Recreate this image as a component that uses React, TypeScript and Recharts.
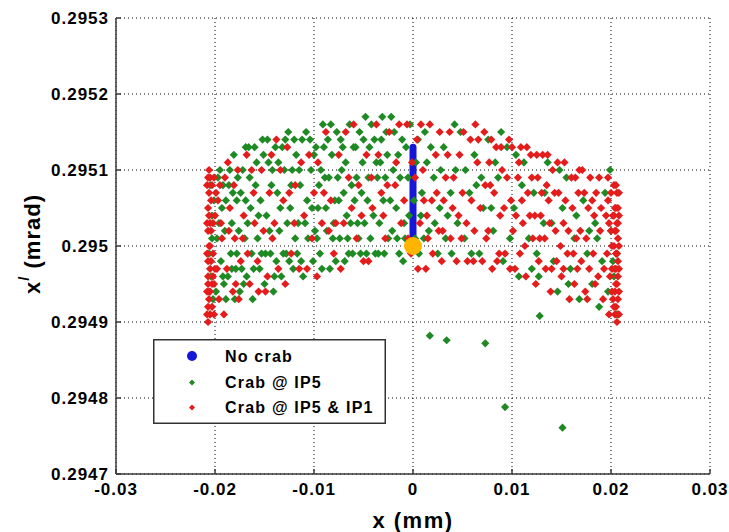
import React from 'react';
import { ScatterChart, Scatter, XAxis, YAxis, CartesianGrid, Legend, Label } from 'recharts';

const xTicks = [-0.03, -0.02, -0.01, 0, 0.01, 0.02, 0.03];
const yTicks = [0.2947, 0.2948, 0.2949, 0.295, 0.2951, 0.2952, 0.2953];
const seriesNames = ['No crab', 'Crab @ IP5', 'Crab @ IP5 & IP1'];
const xTitle = 'x (mm)';

const noCrab: [number, number][] = [[0, 0.295], [0, 0.29513]];
const startPoint: [number, number][] = [[0, 0.295]];

const crabIP5: [number, number][] = [
  [-0.0205,0.29508],[-0.0203,0.29504],[-0.0206,0.29499],[-0.0204,0.29496],[-0.0202,0.29493],[-0.0205,0.29491],[-0.0201,0.29506],[-0.0203,0.29501],
  [-0.0195,0.2951],[-0.0193,0.29505],[-0.019,0.29502],[-0.0194,0.29498],[-0.0191,0.29495],[-0.0189,0.29493],[-0.0186,0.29508],[-0.0184,0.29499],[-0.0187,0.29496],
  [-0.0181,0.29512],[-0.0178,0.29506],[-0.0176,0.29502],[-0.0179,0.29497],[-0.0175,0.29494],[-0.0172,0.2951],[-0.017,0.29501],[-0.0168,0.29496],[-0.0166,0.29513],[-0.0164,0.29505],[-0.0162,0.29493],
  [-0.0159,0.29508],[-0.0157,0.29501],[-0.0155,0.29497],[-0.0152,0.29514],[-0.015,0.29495],[-0.0148,0.29504],[-0.0146,0.29511],[-0.0144,0.29499],[-0.0141,0.29494],
  [-0.0139,0.29513],[-0.0137,0.29507],[-0.0135,0.29502],[-0.0133,0.29496],[-0.013,0.2951],[-0.0128,0.29499],[-0.0126,0.29515],[-0.0124,0.29505],[-0.0121,0.29497],
  [-0.0118,0.29512],[-0.0116,0.29503],[-0.0114,0.29508],[-0.0111,0.29496],[-0.0108,0.29515],[-0.0106,0.29501],[-0.0103,0.2951],[-0.0101,0.29498],
  [-0.0098,0.29513],[-0.0096,0.29505],[-0.0094,0.29499],[-0.0091,0.29516],[-0.0089,0.29509],[-0.0087,0.29502],[-0.0084,0.29497],[-0.0082,0.29512],
  [-0.0079,0.29506],[-0.0077,0.29515],[-0.0074,0.29501],[-0.0072,0.2951],[-0.0069,0.29498],[-0.0067,0.29504],[-0.0064,0.29516],[-0.0062,0.29508],[-0.0061,0.29499],
  [-0.0058,0.29513],[-0.0056,0.29503],[-0.0053,0.29499],[-0.0051,0.29511],[-0.0048,0.29517],[-0.0046,0.29506],[-0.0043,0.29501],
  [-0.0039,0.29514],[-0.0036,0.29509],[-0.0034,0.29503],[-0.0031,0.29517],[-0.0029,0.29499],[-0.0026,0.29512],[-0.0023,0.29506],
  [-0.0019,0.29515],[-0.0016,0.29501],[-0.0013,0.29509],[-0.001,0.29498],[-0.0007,0.29513],[-0.0004,0.29504],
  [0.0003,0.29511],[0.0006,0.29499],[0.0009,0.29507],[0.0012,0.29515],[0.0016,0.29502],[0.0021,0.29509],[0.0025,0.29499],
  [0.0031,0.29513],[0.0035,0.29504],[0.0039,0.29499],[0.0043,0.2951],[0.0048,0.29515],[0.0052,0.29501],[0.0057,0.29507],
  [0.0062,0.29512],[0.0067,0.29499],[0.0071,0.29505],[0.0076,0.29514],[0.0081,0.29502],[0.0086,0.29509],[0.0091,0.29498],[0.0095,0.29513],
  [0.0102,0.29505],[0.0107,0.29496],[0.0112,0.29511],[0.0117,0.29501],[0.0122,0.29507],[0.0127,0.29496],[0.0132,0.29503],[0.0136,0.29511],
  [0.0142,0.29498],[0.0146,0.29494],[0.0151,0.29505],[0.0155,0.29509],[0.0159,0.29497],[0.0163,0.29501],[0.0168,0.29493],[0.0172,0.29506],[0.0176,0.29499],
  [0.0181,0.29495],[0.0184,0.29503],[0.0188,0.29492],[0.0191,0.29498],[0.0194,0.29507],[0.0197,0.29494],[0.02,0.29502],[0.0203,0.29496],[0.0205,0.29491],[0.0206,0.29499],
  [-0.0198,0.29501],[-0.0192,0.29508],[-0.0183,0.29503],[-0.0177,0.29509],[-0.0173,0.29497],[-0.0169,0.29506],[-0.0163,0.29499],[-0.0158,0.29511],[-0.0154,0.29506],[-0.0149,0.29499],
  [-0.0143,0.29508],[-0.0138,0.29498],[-0.0132,0.29513],[-0.0127,0.29503],[-0.0122,0.2951],[-0.0117,0.29499],[-0.0112,0.29514],[-0.0107,0.29506],[-0.0099,0.29502],[-0.0093,0.2951],
  [-0.0086,0.29514],[-0.0081,0.29501],[-0.0076,0.29509],[-0.0071,0.29513],[-0.0066,0.29501],[-0.0059,0.29506],[-0.0054,0.29515],[-0.0049,0.29503],[-0.0044,0.29513],[-0.0038,0.29499],
  [-0.0033,0.29511],[-0.0027,0.29515],[-0.0021,0.29502],[-0.0015,0.29512],[-0.0008,0.29501],[0.0001,0.29506],[0.0014,0.29511],[0.0027,0.29505],[0.0045,0.29503],[0.0064,0.29508],
  [0.0083,0.29511],[0.0104,0.29512],[0.0125,0.29499],[0.0148,0.2951],[0.0178,0.29502],[0.0199,0.2951],
  [-0.0199,0.29494],[-0.0197,0.29509],[-0.0196,0.29503],[-0.0192,0.29496],[-0.0189,0.29506],[-0.0185,0.2951],[-0.0183,0.29497],[-0.0182,0.29507],[-0.018,0.29493],[-0.0178,0.29499],
  [-0.0174,0.29507],[-0.0171,0.29495],[-0.0169,0.29513],[-0.0167,0.29503],[-0.0165,0.29509],[-0.0161,0.29497],[-0.016,0.29513],[-0.0156,0.29504],[-0.0153,0.29499],[-0.0151,0.29512],
  [-0.0147,0.29514],[-0.0145,0.29502],[-0.0142,0.2951],[-0.014,0.29496],[-0.0136,0.29511],[-0.0134,0.29505],[-0.0131,0.29499],[-0.0129,0.29514],[-0.0125,0.29498],[-0.0123,0.29508],
  [-0.012,0.29514],[-0.0119,0.29501],[-0.0115,0.2951],[-0.0113,0.29498],[-0.0109,0.29503],[-0.0104,0.29514],[-0.0102,0.29505],[-0.01,0.29512],[-0.0097,0.29501],[-0.0095,0.29508],
  [-0.0092,0.29497],[-0.009,0.29513],[-0.0088,0.29505],[-0.0085,0.29509],[-0.0083,0.29516],[-0.008,0.29503],[-0.0078,0.29498],[-0.0075,0.29506],[-0.0073,0.29514],[-0.007,0.29507],
  [-0.0068,0.29511],[-0.0065,0.29499],[-0.0063,0.29503],[-0.006,0.29513],[-0.0057,0.29509],[-0.0055,0.29501],[-0.0052,0.29507],[-0.005,0.29514],[-0.0047,0.29499],[-0.0045,0.29509],
  [-0.0042,0.29516],[-0.004,0.29504],[-0.0037,0.29511],[-0.0035,0.29499],[-0.0032,0.29514],[-0.003,0.29506],[-0.0028,0.29509],[-0.0025,0.29501],[-0.0022,0.29517],[-0.002,0.2951],
  [-0.0017,0.29505],[-0.0014,0.29499],[-0.0011,0.29514],[-0.0009,0.29503],[-0.0005,0.29509],[-0.0003,0.29516],[0.0002,0.29501],[0.0005,0.29514],[0.0008,0.29504],[0.0011,0.29501],
  [0.0018,0.29513],[0.0022,0.29503],[0.0028,0.2951],[0.0033,0.29501],[0.0038,0.29507],[0.0042,0.29516],[0.0053,0.2951],[0.0059,0.29499],[0.0069,0.29509],[0.0079,0.29505],
  [0.0089,0.29515],[0.0098,0.29501],[0.011,0.29508],[0.012,0.29497],[0.0133,0.29507],[0.014,0.29503],[0.0157,0.29495],[0.0165,0.29504],[0.0186,0.29501],[0.0202,0.29498],
  [0.0017,0.294882],[0.0034,0.294876],[0.0073,0.294872],[0.0128,0.294908],[0.0093,0.294788],[0.0151,0.294761],
];

const crabIP5IP1: [number, number][] = [
  [-0.0207,0.29509],[-0.0206,0.29507],[-0.0207,0.29505],[-0.0205,0.29503],[-0.0207,0.29502],[-0.0206,0.295],[-0.0207,0.29498],[-0.0205,0.29497],[-0.0207,0.29495],[-0.0206,0.29494],
  [-0.0207,0.29492],[-0.0205,0.29491],[-0.0207,0.2949],[-0.0203,0.29508],[-0.0202,0.29499],[-0.0204,0.29502],[-0.0201,0.29495],[-0.0203,0.29492],[-0.02,0.29504],[-0.0204,0.29506],
  [-0.0206,0.2951],[-0.0202,0.29496],[-0.0206,0.29504],[-0.0207,0.29496],[-0.0206,0.29493],
  [-0.0208,0.29508],[-0.0208,0.29503],[-0.0208,0.29499],[-0.0208,0.29494],[-0.0208,0.29491],[-0.0205,0.29509],[-0.0205,0.295],[-0.0205,0.29494],[-0.0204,0.29498],[-0.0203,0.29495],
  [-0.0202,0.29503],[-0.0201,0.29509],[-0.0201,0.29491],[-0.02,0.29497],[-0.0199,0.29507],
  [-0.0197,0.29506],[-0.0196,0.29493],[-0.0193,0.29501],[-0.019,0.29509],[-0.0188,0.29497],[-0.0185,0.29505],[-0.0182,0.29494],[-0.018,0.29501],[-0.0177,0.2951],[-0.0174,0.29498],
  [-0.0171,0.29504],[-0.0168,0.29512],[-0.0165,0.29495],[-0.0161,0.29507],[-0.0156,0.29494],[-0.0153,0.2951],[-0.0151,0.29502],[-0.0147,0.29496],[-0.0143,0.29512],[-0.014,0.29503],
  [-0.0136,0.29497],[-0.0131,0.29506],[-0.0127,0.29513],[-0.0123,0.29499],[-0.0119,0.29508],[-0.0115,0.29497],[-0.011,0.29504],[-0.0105,0.29512],[-0.01,0.29507],[-0.0097,0.29496],
  [-0.0092,0.29503],[-0.0088,0.29515],[-0.0083,0.29506],[-0.008,0.29499],[-0.0075,0.29512],[-0.007,0.29503],[-0.0065,0.29509],[-0.006,0.29516],[-0.0055,0.29508],[-0.005,0.29498],
  [-0.0047,0.29512],[-0.0041,0.29505],[-0.0037,0.29516],[-0.0032,0.29507],[-0.0028,0.29501],[-0.0024,0.29515],[-0.0018,0.29508],[-0.0012,0.29503],[-0.0006,0.29516],[-0.0002,0.29499],
  [-0.0198,0.29497],[-0.0195,0.29508],[-0.0191,0.29491],[-0.0186,0.29502],[-0.0181,0.29508],[-0.0176,0.29493],[-0.0172,0.29501],[-0.0163,0.2951],[-0.0157,0.29498],[-0.0149,0.29494],
  [-0.0142,0.29501],[-0.0138,0.29514],[-0.0129,0.29495],[-0.0125,0.29507],[-0.0113,0.29511],[-0.0107,0.29497],[-0.0096,0.29511],[-0.0085,0.29502],[-0.0073,0.29497],[-0.0068,0.29515],
  [-0.0062,0.29505],[-0.0052,0.29504],[-0.0045,0.29498],[-0.0035,0.29512],[-0.0026,0.29508],[-0.0014,0.29516],[-0.0005,0.29501],[-0.0001,0.29511],
  [-0.0194,0.29503],[-0.0187,0.29511],[-0.0179,0.29495],[-0.0167,0.29499],[-0.016,0.29503],[-0.0145,0.29507],[-0.0134,0.2951],[-0.012,0.29503],[-0.0102,0.29501],[-0.009,0.29507],
  [-0.0078,0.29503],[-0.0057,0.29501],[-0.0042,0.29509],[-0.003,0.29504],[-0.0017,0.29511],[-0.0009,0.29506],
  [0.0004,0.29514],[0.0007,0.29503],[0.001,0.2951],[0.0013,0.29497],[0.0017,0.29516],[0.0019,0.29506],[0.0023,0.29512],[0.0026,0.29502],[0.0029,0.29498],[0.0033,0.29509],
  [0.0037,0.29515],[0.004,0.29505],[0.0044,0.29498],[0.0047,0.29512],[0.005,0.29507],[0.0054,0.29503],[0.0058,0.29514],[0.0061,0.29498],[0.0065,0.29511],[0.0068,0.29505],
  [0.0072,0.29515],[0.0074,0.29501],[0.0078,0.29508],[0.008,0.29497],[0.0084,0.29513],[0.0088,0.29504],[0.009,0.2951],[0.0093,0.29499],[0.0097,0.29514],[0.0099,0.29506],
  [0.0103,0.29497],[0.0106,0.29509],[0.0109,0.29513],[0.0111,0.29503],[0.0114,0.29496],[0.0116,0.29507],[0.0119,0.29512],[0.0121,0.29501],[0.0124,0.29495],[0.0126,0.29509],
  [0.0129,0.29504],[0.0131,0.29512],[0.0134,0.29497],[0.0137,0.29506],[0.0139,0.29494],[0.0141,0.2951],[0.0144,0.29502],[0.0147,0.29507],[0.015,0.29496],[0.0153,0.29511],
  [0.0156,0.29499],[0.0158,0.29493],[0.0161,0.29505],[0.0164,0.29509],[0.0166,0.29497],[0.0169,0.29502],[0.0171,0.2951],[0.0174,0.29494],[0.0177,0.29505],[0.0179,0.29509],
  [0.0182,0.29499],[0.0185,0.29507],[0.0187,0.29496],[0.0189,0.29502],[0.0192,0.29493],[0.0195,0.29504],[0.0196,0.29499],[0.0198,0.29491],
  [0.0015,0.29501],[0.0031,0.29506],[0.0049,0.29501],[0.0063,0.29516],[0.0077,0.29511],[0.0087,0.29499],[0.0101,0.29502],[0.0108,0.29499],[0.0118,0.29504],[0.0128,0.29501],
  [0.0135,0.29508],[0.0145,0.29498],[0.0152,0.29503],[0.0162,0.29499],[0.0167,0.29507],[0.0175,0.29501],[0.0183,0.29504],[0.0188,0.29509],[0.0193,0.29497],[0.0197,0.29506],
  [0.0002,0.29509],[0.0005,0.29497],[0.0008,0.29516],[0.0011,0.29506],[0.0014,0.29504],[0.002,0.29499],[0.0024,0.29507],[0.0027,0.29515],[0.003,0.29502],[0.0035,0.29512],
  [0.0038,0.29501],[0.0041,0.29509],[0.0046,0.29504],[0.0051,0.29515],[0.0055,0.29498],[0.0059,0.29506],[0.0062,0.29502],[0.0066,0.29514],[0.007,0.29498],[0.0073,0.29508],
  [0.0076,0.29502],[0.0079,0.29514],[0.0082,0.29507],[0.0085,0.29498],[0.0089,0.29513],[0.0092,0.29505],[0.0095,0.29509],[0.0098,0.29497],[0.01,0.29513],[0.0104,0.29504],
  [0.0107,0.29511],[0.011,0.29506],[0.0113,0.295],[0.0115,0.29513],[0.012,0.29509],[0.0123,0.29504],[0.0125,0.29512],[0.0127,0.29498],[0.013,0.29507],[0.0133,0.29501],
  [0.0136,0.29512],[0.0138,0.29503],[0.014,0.29497],[0.0143,0.29507],[0.0146,0.29511],[0.0149,0.295],[0.0152,0.29497],[0.0154,0.29506],[0.0157,0.29502],[0.016,0.29509],
  [0.0163,0.29495],[0.0165,0.29501],[0.0168,0.2951],[0.017,0.29498],[0.0173,0.29507],[0.0176,0.29493],[0.0178,0.29497],[0.0181,0.29506],[0.0184,0.29495],[0.019,0.29505],
  [0.02,0.29507],[0.0201,0.29497],[0.0202,0.29504],[0.0203,0.29508],[0.0203,0.295],[0.0204,0.29494],[0.0204,0.29505],[0.0205,0.29502],[0.0205,0.29497],[0.0206,0.29507],
  [0.0206,0.29503],[0.0206,0.29499],[0.0207,0.29505],[0.0207,0.29501],[0.0207,0.29496],[0.0207,0.29493],[0.0207,0.29491],[0.0206,0.2949],[0.0205,0.29492],[0.0207,0.29498],
  [0.0207,0.29503],[0.0206,0.29495],[0.0204,0.29491],[0.0202,0.29493],
  [0.0208,0.29507],[0.0208,0.29504],[0.0208,0.295],[0.0208,0.29497],[0.0208,0.29494],[0.0208,0.29491],[0.0205,0.29508],[0.0205,0.29505],[0.0205,0.29499],[0.0205,0.29495],
  [0.0204,0.29502],[0.0204,0.29497],[0.0203,0.29504],[0.0203,0.29492],[0.0201,0.295],[0.0201,0.29494],[0.02,0.29502],[0.0199,0.29496],[0.0198,0.29503],[0.0197,0.29509],
];

const BLUE = '#1616d8';
const GREEN = '#1f8a24';
const RED = '#e41c1c';
const ORANGE = '#ffb400';
const FONT = '"Liberation Sans", Arial, Helvetica, sans-serif';

const rows = (a: [number, number][]) => a.map(([x, y]) => ({ x, y }));

const diamond = (color: string, r: number) => (props: any) => {
  const { cx, cy } = props;
  if (cx == null || cy == null) return <g />;
  return <polygon points={`${cx},${cy - r} ${cx + r},${cy} ${cx},${cy + r} ${cx - r},${cy}`} fill={color} />;
};

const bigDot = (props: any) => {
  const { cx, cy } = props;
  if (cx == null || cy == null) return <g />;
  return <circle cx={cx} cy={cy} r={9} fill={ORANGE} />;
};

const noDot = () => <g />;

const tickStyle = { fontFamily: FONT, fontSize: 17, fontWeight: 700, fill: '#000', letterSpacing: 1 };

const LegendBox = () => (
  <svg width={233} height={85} style={{ display: 'block' }}>
    <rect x={0.75} y={0.75} width={231.5} height={83.5} fill="#fff" stroke="#333" strokeWidth={1.5} />
    <circle cx={39} cy={17} r={5} fill={BLUE} />
    <polygon points="39,40.5 42,43.5 39,46.5 36,43.5" fill={GREEN} />
    <polygon points="39,65.5 42,68.5 39,71.5 36,68.5" fill={RED} />
    {seriesNames.map((n, i) => (
      <text key={n} x={72} y={[17, 43.5, 68.5][i]} dominantBaseline="central" fontFamily={FONT} fontSize={16} fontWeight={700} letterSpacing={1.2} fill="#000">{n}</text>
    ))}
  </svg>
);

const YTitle = () => (
  <text x={32} y={244} transform="rotate(-90, 32, 244)" textAnchor="middle" dominantBaseline="central" fontFamily={FONT} fontSize={22} fontWeight={700} letterSpacing={1} fill="#000">
    x<tspan dy={-9} fontSize={15}>/</tspan><tspan dy={9}> (mrad)</tspan>
  </text>
);

export default function App() {
  return (
    <div style={{ position: 'absolute', left: 0, top: 0, width: 729, height: 532, background: '#fff' }}>
      <ScatterChart width={729} height={532} margin={{ top: 18, right: 19, bottom: 0, left: 0 }}>
        <CartesianGrid stroke="#000" strokeDasharray="1 3" strokeWidth={1} />
        <XAxis
          type="number"
          dataKey="x"
          domain={[-0.03, 0.03]}
          ticks={xTicks}
          interval={0}
          height={58}
          tickSize={-5}
          tickMargin={14}
          tick={tickStyle}
          axisLine={{ stroke: '#3a3a3a', strokeWidth: 1.5 }}
          tickLine={{ stroke: '#3a3a3a', strokeWidth: 1.5 }}
        >
          <Label
            content={() => (
              <text x={413} y={520} textAnchor="middle" dominantBaseline="central" fontFamily={FONT} fontSize={22} fontWeight={700} letterSpacing={1.5} fill="#000">{xTitle}</text>
            )}
          />
        </XAxis>
        <YAxis
          type="number"
          dataKey="y"
          domain={[0.2947, 0.2953]}
          ticks={yTicks}
          interval={0}
          width={116}
          tickSize={-5}
          tickMargin={12}
          tick={tickStyle}
          axisLine={{ stroke: '#3a3a3a', strokeWidth: 1.5 }}
          tickLine={{ stroke: '#3a3a3a', strokeWidth: 1.5 }}
        >
          <Label content={() => <YTitle />} />
        </YAxis>
        <Scatter name={seriesNames[0]} data={rows(noCrab)} fill={BLUE} line={{ stroke: BLUE, strokeWidth: 7, strokeLinecap: 'round' }} shape={noDot} isAnimationActive={false} />
        <Scatter name={seriesNames[1]} data={rows(crabIP5)} fill={GREEN} shape={diamond(GREEN, 4.1)} isAnimationActive={false} />
        <Scatter name={seriesNames[2]} data={rows(crabIP5IP1)} fill={RED} shape={diamond(RED, 4.1)} isAnimationActive={false} />
        <Scatter name="start" data={rows(startPoint)} fill={ORANGE} shape={bigDot} isAnimationActive={false} legendType="none" />
        <Legend
          layout="horizontal"
          verticalAlign="middle"
          align="center"
          content={() => <LegendBox />}
          wrapperStyle={{ left: 153, top: 339, width: 233, height: 85 }}
        />
      </ScatterChart>
    </div>
  );
}
